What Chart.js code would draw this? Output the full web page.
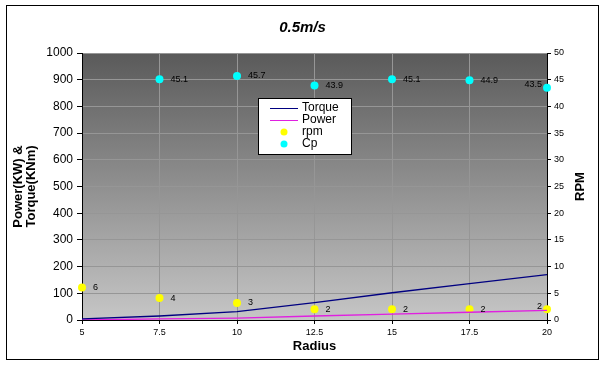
<!DOCTYPE html>
<html>
<head>
<meta charset="utf-8">
<script src="https://cdn.jsdelivr.net/npm/chart.js@4"></script>
<style>
  body { margin: 0; background: #fff; }
  canvas { display: block; }
</style>
</head>
<body>
<canvas id="speedChart" width="605" height="365"></canvas>
<script>
// values
const radius = [5, 7.5, 10, 12.5, 15, 17.5, 20];
const torque = [4, 15, 31, 65, 102, 136, 170];
const power = [0, 4, 7, 15, 22, 29, 36];
const rpm = [6.1, 4.1, 3.2, 2.0, 2.0, 2.0, 2.0];
const cpRadius = [7.5, 10, 12.5, 15, 17.5, 20];
const cp = [45.1, 45.7, 43.9, 45.1, 44.9, 43.5];

const leftTicks = [0, 100, 200, 300, 400, 500, 600, 700, 800, 900, 1000];
const FONT = "'Liberation Sans', Arial, sans-serif";

const toPts = (xs, ys) => xs.map((x, i) => ({ x: x, y: ys[i] }));

// grey gradient behind the plot, like excel
const plotBg = {
    id: 'plotBg',
    beforeDraw(chart) {
        const { ctx, chartArea: a } = chart;
        const g = ctx.createLinearGradient(0, a.top, 0, a.bottom);
        g.addColorStop(0, '#5a5a5a');
        g.addColorStop(1, '#c6c6c6');
        ctx.save();
        ctx.fillStyle = g;
        ctx.fillRect(a.left, a.top, a.right - a.left, a.bottom - a.top);
        ctx.restore();
    },
    afterDraw(chart) {
        const ctx = chart.ctx;
        ctx.save();
        ctx.strokeStyle = '#000';
        ctx.lineWidth = 1;
        ctx.strokeRect(6.5, 5.5, 592, 354);
        // RPM title reads bottom to top
        ctx.translate(580, (chart.chartArea.top + chart.chartArea.bottom) / 2);
        ctx.rotate(-Math.PI / 2);
        ctx.font = 'bold 13px ' + FONT;
        ctx.fillStyle = '#000';
        ctx.textAlign = 'center';
        ctx.textBaseline = 'middle';
        ctx.fillText('RPM', 0, 0);
        ctx.restore();
    }
};

// number labels next to the rpm and Cp markers
const valueLabels = {
    id: 'valueLabels',
    afterDatasetsDraw(chart) {
        const ctx = chart.ctx;
        const right = chart.chartArea.right;
        ctx.save();
        ctx.font = '9px ' + FONT;
        ctx.fillStyle = '#000';
        ctx.textBaseline = 'middle';
        chart.data.datasets.forEach((ds, i) => {
            if (ds.labelDigits === undefined) return;
            chart.getDatasetMeta(i).data.forEach((pt, j) => {
                const txt = ds.data[j].y.toFixed(ds.labelDigits);
                if (pt.x > right - 2) {
                    ctx.textAlign = 'right';
                    ctx.fillText(txt, pt.x - 5, pt.y - 3);
                } else {
                    ctx.textAlign = 'left';
                    ctx.fillText(txt, pt.x + 11, pt.y);
                }
            });
        });
        ctx.restore();
    }
};

// boxed legend sitting inside the plot
const boxLegend = {
    id: 'boxLegend',
    afterDraw(chart) {
        const ctx = chart.ctx;
        const x = 258, y = 98;
        ctx.save();
        ctx.fillStyle = '#fff';
        ctx.fillRect(x, y, 93, 56);
        ctx.strokeStyle = '#000';
        ctx.lineWidth = 1;
        ctx.strokeRect(x + 0.5, y + 0.5, 93, 56);
        ctx.font = '12px ' + FONT;
        ctx.textBaseline = 'middle';
        ctx.textAlign = 'left';
        chart.data.datasets.forEach((ds, i) => {
            const ry = y + 10 + i * 12;
            if (ds.showLine) {
                ctx.strokeStyle = ds.borderColor;
                ctx.beginPath();
                ctx.moveTo(x + 12, ry + 0.5);
                ctx.lineTo(x + 40, ry + 0.5);
                ctx.stroke();
            } else {
                ctx.fillStyle = ds.pointBackgroundColor;
                ctx.beginPath();
                ctx.arc(x + 26, ry, 3.5, 0, Math.PI * 2);
                ctx.fill();
            }
            ctx.fillStyle = '#000';
            ctx.fillText(ds.label, x + 44, ry);
        });
        ctx.restore();
    }
};

const ctx = document.getElementById('speedChart').getContext('2d');

let speedChart = new Chart(ctx, {
    type: 'line',
    data: {
        datasets: [{
            label: 'Torque',
            data: toPts(radius, torque),
            yAxisID: 'y',
            showLine: true,
            borderColor: '#000080',
            borderWidth: 1.3,
            pointRadius: 0,
            tension: 0
        }, {
            label: 'Power',
            data: toPts(radius, power),
            yAxisID: 'y',
            showLine: true,
            borderColor: '#e020e0',
            borderWidth: 1.3,
            pointRadius: 0,
            tension: 0
        }, {
            label: 'rpm',
            data: toPts(radius, rpm),
            yAxisID: 'y1',
            showLine: false,
            pointRadius: 4,
            pointBackgroundColor: '#ffff00',
            pointBorderColor: '#ffff00',
            pointBorderWidth: 0,
            clip: false,
            labelDigits: 0
        }, {
            label: 'Cp',
            data: toPts(cpRadius, cp),
            yAxisID: 'y1',
            showLine: false,
            pointRadius: 4,
            pointBackgroundColor: '#00ffff',
            pointBorderColor: '#00ffff',
            pointBorderWidth: 0,
            clip: false,
            labelDigits: 1
        }]
    },
    options: {
        responsive: false,
        animation: false,
        layout: { padding: 0 },
        plugins: {
            legend: { display: false },
            tooltip: { enabled: false },
            title: {
                display: true,
                text: '0.5m/s',
                color: '#000',
                font: { family: FONT, size: 15, style: 'italic' },
                padding: { top: 19, bottom: 16 }
            }
        },
        scales: {
            x: {
                type: 'linear',
                min: 5,
                max: 20,
                afterFit(s) { s.height = 45; },
                afterBuildTicks(s) { s.ticks = radius.map(v => ({ value: v })); },
                grid: { color: '#969696', tickColor: '#000', tickLength: 4 },
                border: { color: '#000' },
                ticks: { color: '#000', padding: 3, font: { family: FONT, size: 9 }, maxRotation: 0 },
                title: {
                    display: true,
                    text: 'Radius',
                    color: '#000',
                    font: { family: FONT, size: 13, weight: 'bold', lineHeight: 1 },
                    padding: { top: 0, bottom: 12 }
                }
            },
            y: {
                position: 'left',
                min: 0,
                max: 1000,
                afterFit(s) { s.width = 82; },
                afterBuildTicks(s) { s.ticks = leftTicks.map(v => ({ value: v })); },
                grid: { color: '#969696', tickColor: '#000', tickLength: 5 },
                border: { color: '#000' },
                ticks: {
                    color: '#000',
                    padding: 4,
                    font: { family: FONT, size: 12 },
                    callback: v => String(v)
                },
                title: {
                    display: true,
                    text: ['Power(KW) &', 'Torque(KNm)'],
                    color: '#000',
                    font: { family: FONT, size: 13, weight: 'bold', lineHeight: 1 },
                    padding: { top: 12, bottom: 0 }
                }
            },
            y1: {
                position: 'right',
                min: 0,
                max: 50,
                afterFit(s) { s.width = 58; },
                grid: { drawOnChartArea: false, tickColor: '#000', tickLength: 4 },
                border: { color: '#000' },
                ticks: { color: '#000', stepSize: 5, padding: 3, font: { family: FONT, size: 9 } }
            }
        }
    },
    plugins: [plotBg, valueLabels, boxLegend]
});
</script>
</body>
</html>
